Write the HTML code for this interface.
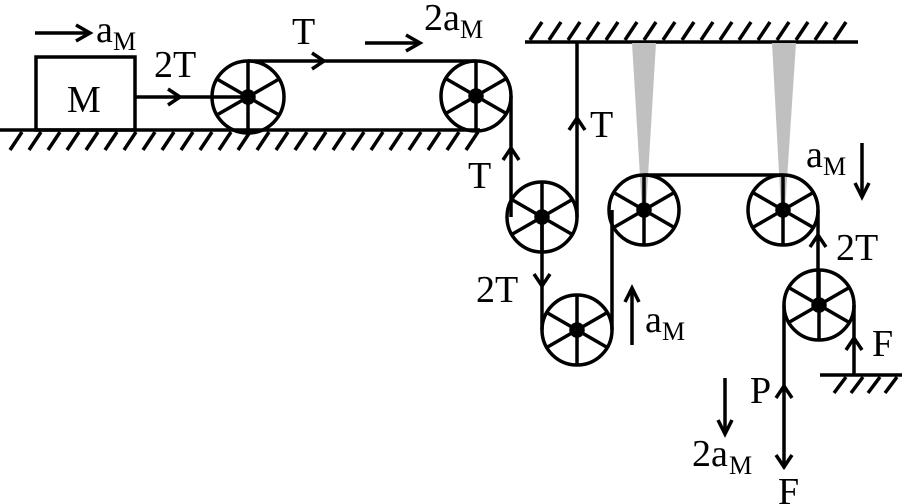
<!DOCTYPE html>
<html><head><meta charset="utf-8"><style>
html,body{margin:0;padding:0;background:#fff;width:903px;height:504px;overflow:hidden}
svg{display:block}
text{font-family:"Liberation Serif",serif;font-size:38px;fill:#000}
.s{font-size:26px}
</style></head><body>
<svg id="g" width="903" height="504" viewBox="0 0 903 504" xmlns="http://www.w3.org/2000/svg">
<g stroke="#000" stroke-width="3.5" fill="none" stroke-linecap="butt">
<line x1="0" y1="130" x2="480" y2="130"/>
<g id="h1"></g>
<line x1="525" y1="42" x2="858" y2="42"/>
<g id="h2"></g>
<line x1="820" y1="375" x2="902" y2="375"/>
<g id="h3"></g>
<rect x="36" y="57" width="99" height="73"/>
<polygon points="632,43 656,43 646,210 642,210" fill="#c0c0c0" stroke="none"/>
<polygon points="772,43 796,43 785,210 781,210" fill="#c0c0c0" stroke="none"/>
<line x1="135" y1="97" x2="248" y2="97"/>
<line x1="248" y1="61" x2="476" y2="61"/>
<line x1="511" y1="96" x2="511" y2="217"/>
<line x1="577" y1="42" x2="577" y2="217"/>
<line x1="542" y1="217" x2="542" y2="330"/>
<line x1="612" y1="330" x2="612" y2="210"/>
<line x1="644" y1="175" x2="783" y2="175"/>
<line x1="818" y1="210" x2="818" y2="305"/>
<line x1="784" y1="305" x2="784" y2="468"/>
<line x1="854" y1="305" x2="854" y2="375"/>
<line x1="35" y1="33" x2="88" y2="33"/><polyline points="76,25 90,33 76,41"/>
<line x1="365" y1="43" x2="418" y2="43"/><polyline points="406,35 420,43 406,51"/>
<line x1="632" y1="345" x2="632" y2="290"/><polyline points="625,302 632,288 639,302"/>
<line x1="862" y1="143" x2="862" y2="195"/><polyline points="855,183 862,197 869,183"/>
<line x1="725" y1="378" x2="725" y2="432"/><polyline points="718,420 725,434 732,420"/>
<polyline points="168,89 180,97 168,105"/>
<polyline points="312,53 324,61 312,69"/>
<polyline points="503,160 511,148 519,160"/>
<polyline points="569,130 577,118 585,130"/>
<polyline points="534,274 542,286 550,274"/>
<polyline points="810,247 818,235 826,247"/>
<polyline points="846,350 854,338 862,350"/>
<polyline points="776,398 784,386 792,398"/>
<polyline points="776,455 784,467 792,455"/>
</g>
<g id="pul" stroke="#000" stroke-width="3.5" fill="none"></g>
<text x="67" y="112">M</text>
<text x="96" y="42">a</text><text class="s" x="113" y="50">M</text>
<text x="154" y="77">2T</text>
<text x="292" y="44">T</text>
<text x="424" y="30">2a</text><text class="s" x="460" y="38">M</text>
<text x="468" y="188">T</text>
<text x="590" y="137">T</text>
<text x="476" y="302">2T</text>
<text x="645" y="332">a</text><text class="s" x="662" y="340">M</text>
<text x="806" y="167">a</text><text class="s" x="823" y="175">M</text>
<text x="836" y="260">2T</text>
<text x="872" y="356">F</text>
<text x="750" y="403">P</text>
<text x="692" y="466">2a</text><text class="s" x="729" y="474">M</text>
<text x="778" y="504">F</text>
</svg>
<script>
var NS="http://www.w3.org/2000/svg";
function ln(g,x1,y1,x2,y2){var l=document.createElementNS(NS,"line");l.setAttribute("x1",x1);l.setAttribute("y1",y1);l.setAttribute("x2",x2);l.setAttribute("y2",y2);g.appendChild(l);}
var h1=document.getElementById("h1");for(var x=14;x<=470;x+=19)ln(h1,x+8,132,x-4,150);
var h2=document.getElementById("h2");for(var x=535;x<=855;x+=19)ln(h2,x-5,40,x+7,22);
var h3=document.getElementById("h3");for(var x=838;x<=900;x+=17)ln(h3,x+8,377,x-4,393);
var pg=document.getElementById("pul");
[[248,97,36],[476,96,35],[542,217,35],[577,330,35],[644,210,35],[783,210,35],[819,305,35]].forEach(function(p){
 var c=document.createElementNS(NS,"circle");c.setAttribute("cx",p[0]);c.setAttribute("cy",p[1]);c.setAttribute("r",p[2]);pg.appendChild(c);
 for(var a=90;a<270;a+=60){var r=a*Math.PI/180,dx=Math.cos(r)*p[2],dy=Math.sin(r)*p[2];ln(pg,p[0]-dx,p[1]-dy,p[0]+dx,p[1]+dy);}
 var h=document.createElementNS(NS,"circle");h.setAttribute("cx",p[0]);h.setAttribute("cy",p[1]);h.setAttribute("r",6);h.setAttribute("fill","#000");pg.appendChild(h);
});
</script>
</body></html>
